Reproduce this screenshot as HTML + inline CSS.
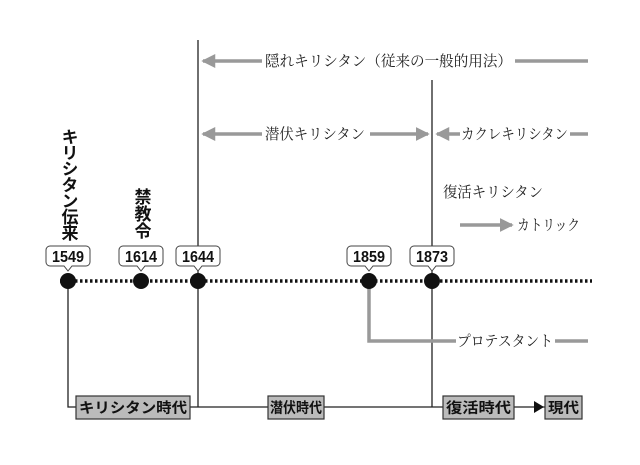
<!DOCTYPE html>
<html><head><meta charset="utf-8"><style>
html,body{margin:0;padding:0;background:#fff;width:640px;height:465px;overflow:hidden}
svg text{font-family:"Liberation Serif","Noto Serif CJK SC",serif;fill:#222}
.b{font-family:"Liberation Sans","Noto Sans CJK JP",sans-serif;font-weight:bold;fill:#111}
</style></head><body>
<svg width="640" height="465" viewBox="0 0 640 465" xmlns="http://www.w3.org/2000/svg">
<defs>
<marker id="g" markerWidth="4" markerHeight="4" refX="3.5" refY="2" orient="auto" markerUnits="strokeWidth"><path d="M0,0 L4,2 L0,4z" fill="#999"/></marker>
</defs>
<g stroke="#222" stroke-width="1.3" fill="none">
<line x1="198" y1="40" x2="198" y2="407"/>
<line x1="432" y1="80" x2="432" y2="407"/>
<polyline points="68,281 68,407 545,407"/>
</g>
<g stroke="#999" stroke-width="3.5" fill="none">
<line x1="262" y1="61" x2="203" y2="61" marker-end="url(#g)"/>
<line x1="515" y1="61" x2="588" y2="61"/>
<line x1="262" y1="134" x2="203" y2="134" marker-end="url(#g)"/>
<line x1="370" y1="134" x2="428" y2="134" marker-end="url(#g)"/>
<line x1="460" y1="134" x2="437" y2="134" marker-end="url(#g)"/>
<line x1="570" y1="134" x2="588" y2="134"/>
<line x1="460" y1="225" x2="512" y2="225" marker-end="url(#g)"/>
<polyline points="369,281 369,341 456,341"/>
<line x1="555" y1="341" x2="588" y2="341"/>
</g>
<text x="265" y="66" font-size="15" textLength="247" lengthAdjust="spacingAndGlyphs">隠れキリシタン（従来の一般的用法）</text>
<text x="265" y="139" font-size="15" textLength="100" lengthAdjust="spacingAndGlyphs">潜伏キリシタン</text>
<text x="461" y="139" font-size="15" textLength="107" lengthAdjust="spacingAndGlyphs">カクレキリシタン</text>
<text x="443" y="197" font-size="15" textLength="100" lengthAdjust="spacingAndGlyphs">復活キリシタン</text>
<text x="517" y="230" font-size="15" textLength="63" lengthAdjust="spacingAndGlyphs">カトリック</text>
<text x="457" y="346" font-size="15" textLength="96" lengthAdjust="spacingAndGlyphs">プロテスタント</text>
<text class="b" font-size="17" x="68" y="128" style="writing-mode:vertical-rl" letter-spacing="-1">キリシタン伝来</text>
<text class="b" font-size="17" x="141" y="188" style="writing-mode:vertical-rl">禁教令</text>
<line x1="60" y1="281" x2="592" y2="281" stroke="#111" stroke-width="3.5" stroke-dasharray="2.5,2.5"/>
<g fill="#111">
<circle cx="68" cy="281" r="8"/><circle cx="141" cy="281" r="8"/><circle cx="198" cy="281" r="8"/><circle cx="369" cy="281" r="8"/><circle cx="432" cy="281" r="8"/>
</g>
<g stroke="#444" stroke-width="1" fill="#fff">
<path d="M50,246 h36 a4,4 0 0 1 4,4 v12 a4,4 0 0 1 -4,4 h-14 l-4,5 l-4,-5 h-14 a4,4 0 0 1 -4,-4 v-12 a4,4 0 0 1 4,-4z"/>
<path d="M123,246 h36 a4,4 0 0 1 4,4 v12 a4,4 0 0 1 -4,4 h-14 l-4,5 l-4,-5 h-14 a4,4 0 0 1 -4,-4 v-12 a4,4 0 0 1 4,-4z"/>
<path d="M180,246 h36 a4,4 0 0 1 4,4 v12 a4,4 0 0 1 -4,4 h-14 l-4,5 l-4,-5 h-14 a4,4 0 0 1 -4,-4 v-12 a4,4 0 0 1 4,-4z"/>
<path d="M351,246 h36 a4,4 0 0 1 4,4 v12 a4,4 0 0 1 -4,4 h-14 l-4,5 l-4,-5 h-14 a4,4 0 0 1 -4,-4 v-12 a4,4 0 0 1 4,-4z"/>
<path d="M414,246 h36 a4,4 0 0 1 4,4 v12 a4,4 0 0 1 -4,4 h-14 l-4,5 l-4,-5 h-14 a4,4 0 0 1 -4,-4 v-12 a4,4 0 0 1 4,-4z"/>
</g>
<g font-size="15.5" text-anchor="middle">
<text class="b" x="68" y="262" textLength="32" lengthAdjust="spacingAndGlyphs">1549</text><text class="b" x="141" y="262" textLength="32" lengthAdjust="spacingAndGlyphs">1614</text><text class="b" x="198" y="262" textLength="32" lengthAdjust="spacingAndGlyphs">1644</text><text class="b" x="369" y="262" textLength="32" lengthAdjust="spacingAndGlyphs">1859</text><text class="b" x="432" y="262" textLength="32" lengthAdjust="spacingAndGlyphs">1873</text>
</g>
<g fill="#bbb" stroke="#333" stroke-width="1.2">
<rect x="76" y="396" width="114" height="23"/>
<rect x="268" y="396" width="56" height="23"/>
<rect x="443" y="396" width="71" height="23"/>
<rect x="545" y="396" width="37" height="23"/>
</g>
<path d="M534,401 L544,407 L534,413z" fill="#111"/>
<g font-size="14.5">
<text class="b" x="79" y="413" textLength="108" lengthAdjust="spacingAndGlyphs">キリシタン時代</text>
<text class="b" x="270" y="413" textLength="52" lengthAdjust="spacingAndGlyphs">潜伏時代</text>
<text class="b" x="446" y="413" textLength="65" lengthAdjust="spacingAndGlyphs">復活時代</text>
<text class="b" x="548" y="413" textLength="31" lengthAdjust="spacingAndGlyphs">現代</text>
</g>
</svg>
</body></html>
